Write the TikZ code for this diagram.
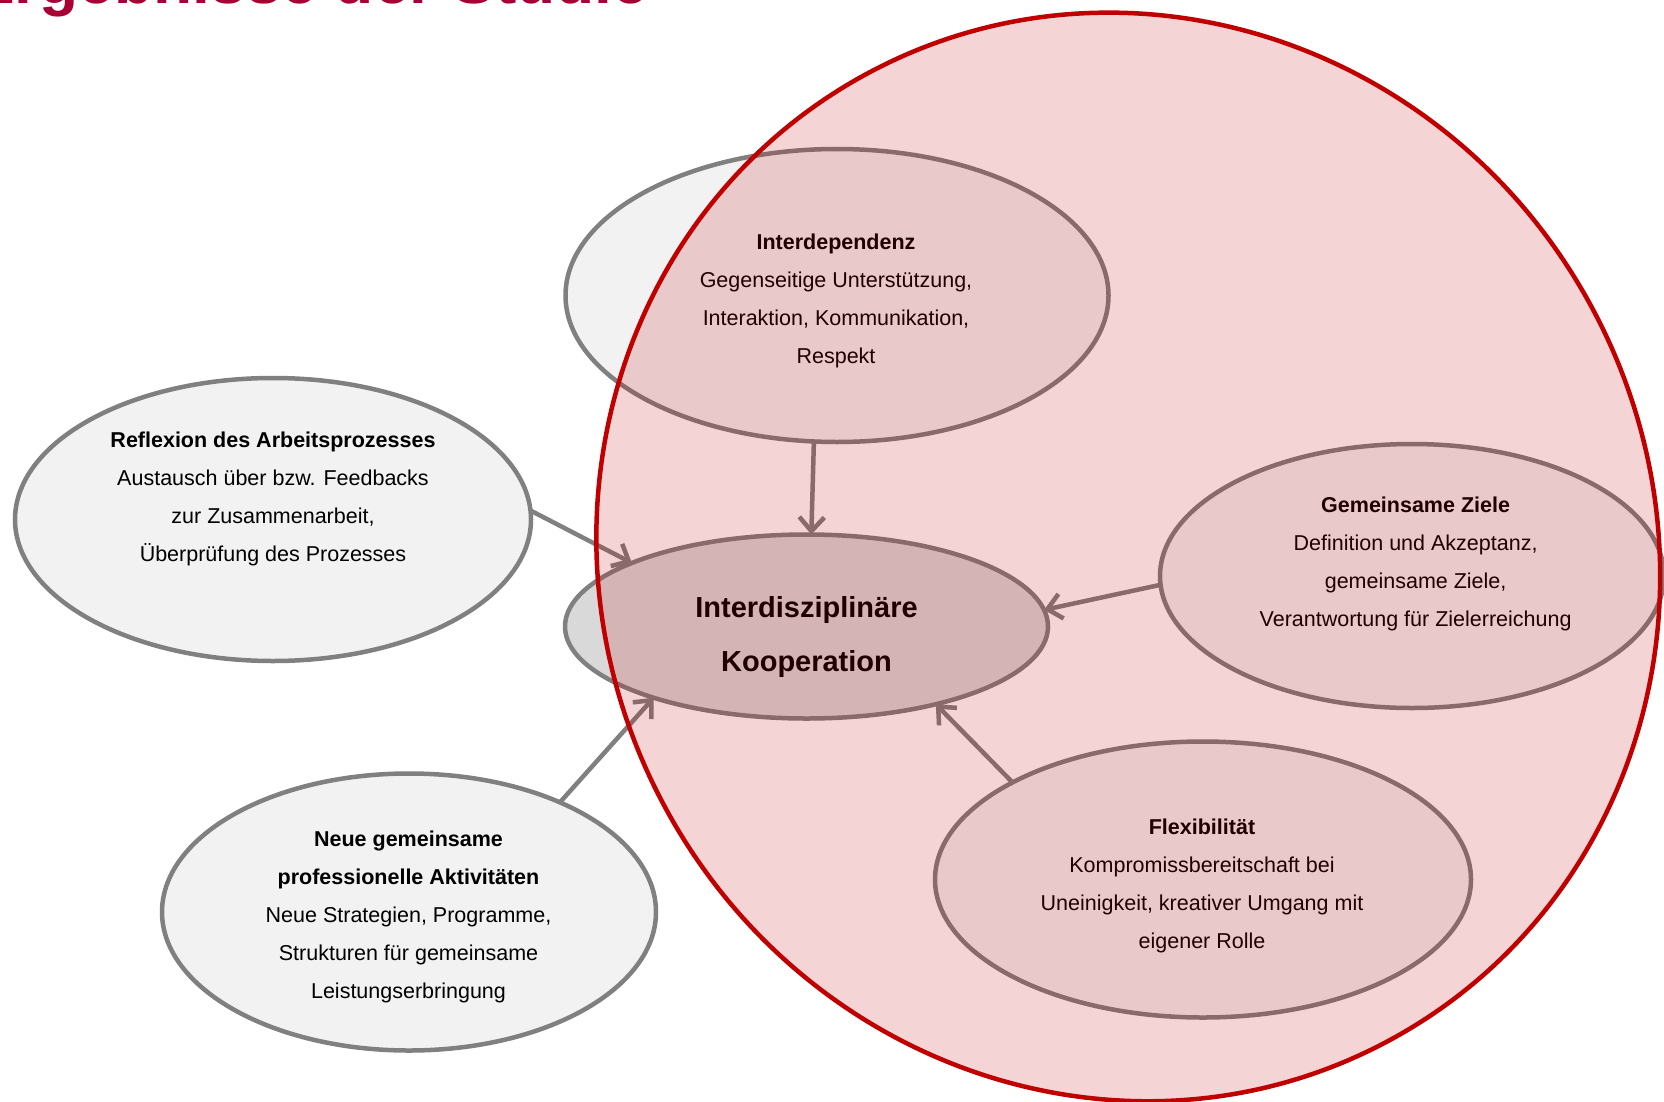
\documentclass[tikz,border=0pt]{standalone}
\usepackage{fontspec}
\setmainfont{Liberation Sans}
\usetikzlibrary{shapes.geometric,arrows.meta}
\definecolor{bubline}{RGB}{128,128,128}
\definecolor{bubfill}{RGB}{242,242,242}
\definecolor{corefill}{RGB}{217,217,217}
\definecolor{bigred}{RGB}{192,0,0}
\definecolor{titlecol}{RGB}{168,0,52}
\tikzset{
  bub/.style={ellipse, draw=bubline, line width=4.5pt, fill=bubfill, inner sep=0pt, outer sep=0pt},
  txt/.style={align=center, font=\fontsize{21.5}{38}\selectfont, text=black, inner sep=0pt},
  coretxt/.style={align=center, font=\fontsize{29}{54}\selectfont\bfseries, text=black, inner sep=0pt},
  arr/.style={draw=bubline, line width=4.5pt, -{Straight Barb[length=14pt,width=25pt]}}
}
\begin{document}
\begin{tikzpicture}[x=1pt,y=-1pt]
\useasboundingbox (0,0) rectangle (1664,1102);
\clip (0,0) rectangle (1664,1102);
\fill[white] (0,0) rectangle (1664,1102);

% title (cut at top)
\node[anchor=base west, inner sep=0pt, text=titlecol, font=\fontsize{64}{70}\selectfont\bfseries] (title) at (-28,4) {Ergebnisse der Studie};

% bubbles
\node[bub, minimum width=543pt, minimum height=293pt] (interdep) at (837,295.5) {};
\node[bub, minimum width=516pt, minimum height=283pt] (reflex) at (273,519.5) {};
\node[bub, fill=corefill, minimum width=483pt, minimum height=184pt] (core) at (806.5,626.5) {};
\node[bub, minimum width=504pt, minimum height=264pt] (ziele) at (1412,576) {};
\node[bub, minimum width=536pt, minimum height=276pt] (flex) at (1203,879.5) {};
\node[bub, minimum width=494pt, minimum height=277pt] (neue) at (409,912) {};

% connectors
\draw[arr] (interdep.-99.8) -- (core.87);
\draw[arr] (reflex.2.8) -- (core.160.5);
\draw[arr] (ziele.-178.75) -- (core.4.6);
\draw[arr] (flex.153.5) -- (core.-31);
\draw[arr] (neue.36.5) -- (core.-155);

% texts
\node[txt] (t-interdep) at (836,301) {\textbf{Interdependenz}\\Gegenseitige Unterstützung,\\Interaktion, Kommunikation,\\Respekt};
\node[txt] (t-reflex) at (273,498.5) {\textbf{Reflexion des Arbeitsprozesses}\\Austausch über bzw. Feedbacks\\zur Zusammenarbeit,\\Überprüfung des Prozesses};
\node[coretxt] (t-core) at (806.5,636.5) {Interdisziplinäre\\Kooperation};
\node[txt] (t-ziele) at (1415.6,563.5) {\textbf{Gemeinsame Ziele}\\Definition und Akzeptanz,\\gemeinsame Ziele,\\Verantwortung für Zielerreichung};
\node[txt] (t-flex) at (1202,885.5) {\textbf{Flexibilität}\\Kompromissbereitschaft bei\\Uneinigkeit, kreativer Umgang mit\\eigener Rolle};
\node[txt] (t-neue) at (408.5,917) {\textbf{Neue gemeinsame}\\\textbf{professionelle Aktivitäten}\\Neue Strategien, Programme,\\Strukturen für gemeinsame\\Leistungserbringung};

% big translucent oval on top
\path[fill=bigred, fill opacity=0.17, rotate around={28.65:(1130,556)}] (1128,556) ellipse [x radius=526.5pt, y radius=549.4pt];
\draw[bigred, line width=4.5pt, rotate around={28.65:(1130,556)}] (1128,556) ellipse [x radius=526.5pt, y radius=549.4pt];
\end{tikzpicture}
\end{document}
